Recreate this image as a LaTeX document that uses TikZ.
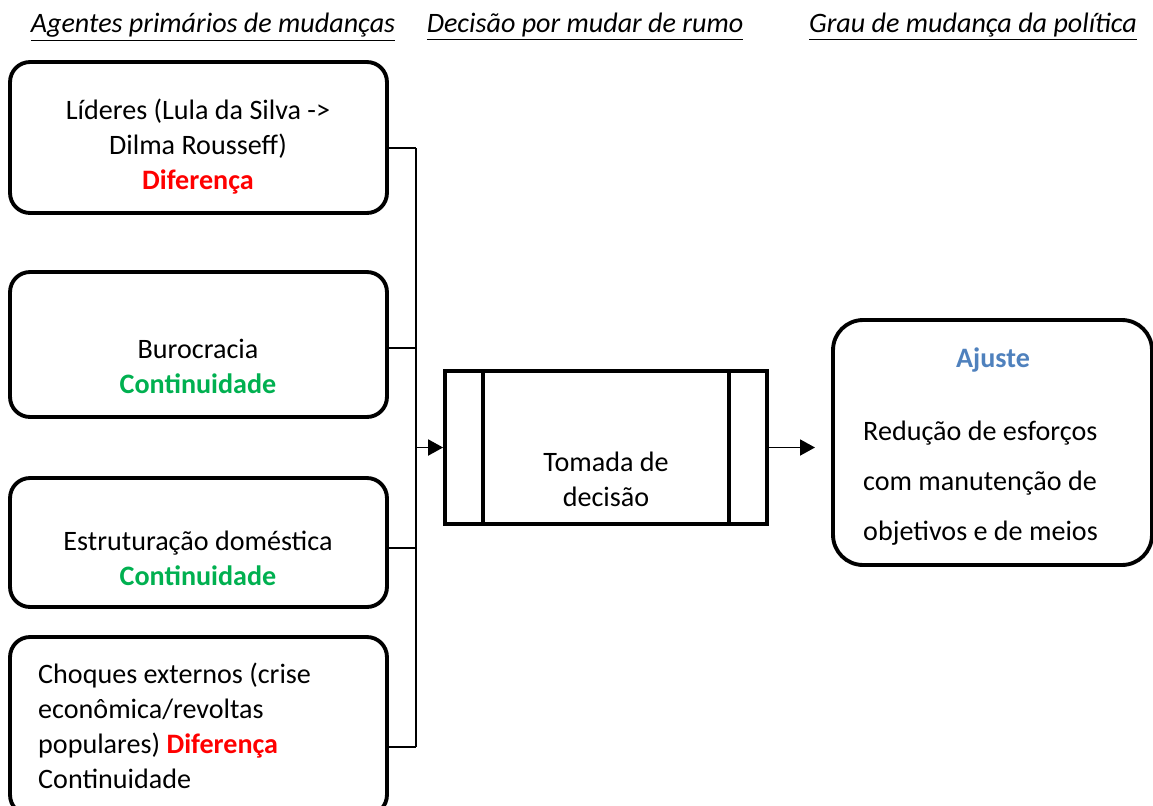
\documentclass[tikz,border=0pt]{standalone}
\usepackage{fontspec}
\setmainfont{Carlito}
\usetikzlibrary{arrows.meta}

\definecolor{vermelho}{HTML}{FF0000}
\definecolor{verde}{HTML}{00B050}
\definecolor{azul}{HTML}{4F81BD}

\tikzset{
  caixa/.style={draw, line width=2.2pt, rounded corners=0.4cm, minimum width=7.54cm},
  texto/.style={align=center, font=\fontsize{16pt}{19.9pt}\selectfont},
  titulo/.style={font=\fontsize{16pt}{19.9pt}\selectfont\itshape},
  linha/.style={line width=1.1pt},
  seta/.style={line width=1.1pt, -{Triangle[length=0.3cm,width=0.32cm]}}
}

\begin{document}
\begin{tikzpicture}[x=0.02cm, y=-0.02cm]
\useasboundingbox (0,0) rectangle (1153,805);
\clip (0,0) rectangle (1153,805);
% column titles
\node[titulo] (tagentes) at (213,27) {\underline{Agentes primários de mudanças}};
\node[titulo] (tdecisao) at (585,27) {\underline{Decisão por mudar de rumo}};
\node[titulo] (tgrau) at (973,27) {\underline{Grau de mudança da política}};
% agents
\node[caixa, minimum height=3.02cm] (lid) at (198.5,137.5) {};
\node[texto] (lidtxt) at (198,147) {Líderes (Lula da Silva ->\\Dilma Rousseff)\\\textcolor{vermelho}{\textbf{Diferença}}};
\node[caixa, minimum height=2.9cm] (bur) at (198.5,344.5) {};
\node[texto] (burtxt) at (198,366) {Burocracia\\\textcolor{verde}{\textbf{Continuidade}}};
\node[caixa, minimum height=2.58cm] (est) at (198.5,542.5) {};
\node[texto] (esttxt) at (198,558) {Estruturação doméstica\\\textcolor{verde}{\textbf{Continuidade}}};
\node[caixa, minimum height=3.56cm] (cho) at (198.5,726) {};
\node[texto, align=left, anchor=west] (chotxt) at (32,726) {Choques externos (crise\\econômica/revoltas\\populares) \textcolor{vermelho}{\textbf{Diferença}}\\Continuidade};
% decision
\node[draw, line width=2.2pt, minimum width=6.44cm, minimum height=3.06cm] (dec) at (606,447.5) {};
\draw[line width=2.2pt] ([xshift=0.8cm]dec.north west) -- ([xshift=0.8cm]dec.south west);
\draw[line width=2.2pt] ([xshift=-0.8cm]dec.north east) -- ([xshift=-0.8cm]dec.south east);
\node[texto] (dectxt) at (606,479) {Tomada de\\decisão};
% result
\node[caixa, rounded corners=0.6cm, minimum width=6.38cm, minimum height=4.9cm] (aj) at (992.5,442.5) {};
\node[texto] (ajtit) at (993,360) {\textcolor{azul}{\textbf{Ajuste}}};
\node[texto, align=left, anchor=west, font=\fontsize{16pt}{28.45pt}\selectfont] (ajtxt) at (857,483) {Redução de esforços\\com manutenção de\\objetivos e de meios};
% connectors
\coordinate (b1) at (416,148);
\coordinate (b2) at (416,348);
\coordinate (b3) at (416,548);
\coordinate (b4) at (416,747);
\coordinate (fim) at (815,447.5);
\draw[linha] (lid.east |- b1) -- (b1);
\draw[linha] (bur.east |- b2) -- (b2);
\draw[linha] (est.east |- b3) -- (b3);
\draw[linha] (cho.east |- b4) -- (b4);
\draw[linha] (b1) -- (b4);
\draw[seta] (dec.west -| b1) -- (dec.west);
\draw[seta] (dec.east) -- (fim);
\end{tikzpicture}
\end{document}
